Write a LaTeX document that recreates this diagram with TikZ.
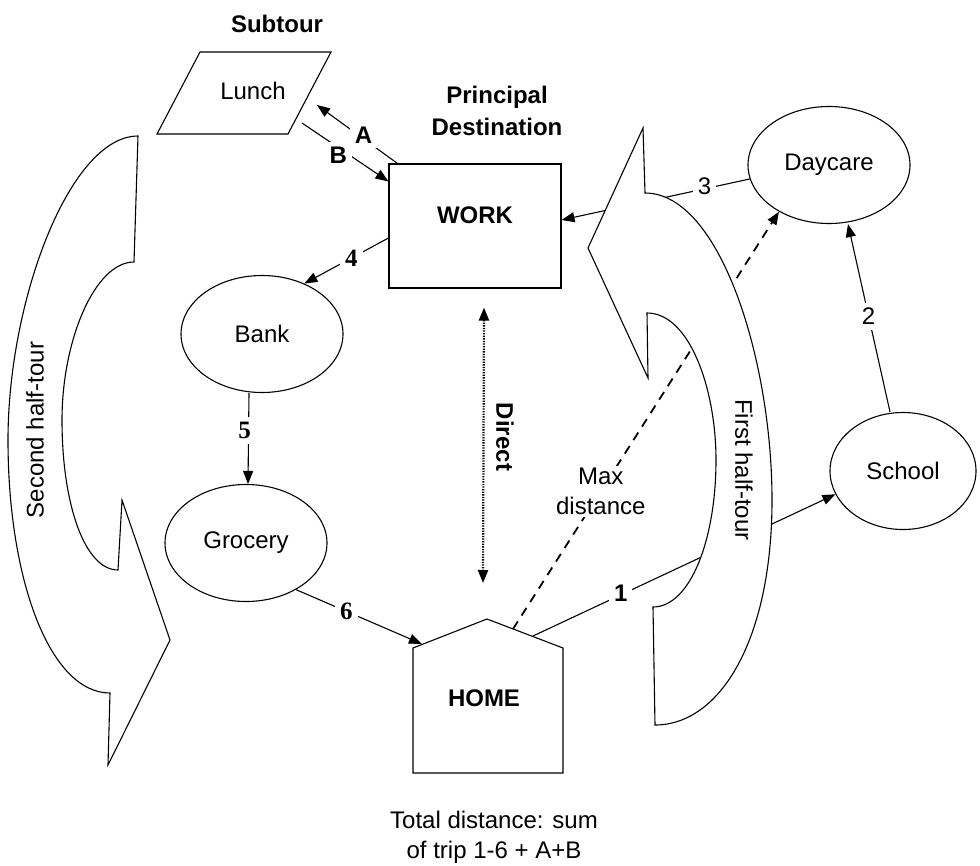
\documentclass[tikz,border=0pt]{standalone}
\usepackage{fontspec}
\setmainfont{Liberation Sans}
\newfontfamily\numfont{Liberation Serif}
\usetikzlibrary{arrows.meta, shapes.geometric}

\begin{document}
\begin{tikzpicture}[x=1pt, y=-1pt, line width=1.1pt,
    font=\fontsize{24}{30}\selectfont,
    bold/.style={font=\fontsize{24}{32}\selectfont\bfseries},
    stop/.style={draw, ellipse, minimum width=162pt, minimum height=117pt},
    tip/.style={-{Triangle[length=13pt, width=10pt]}},
    lbl/.style={fill=white, inner sep=5pt},
    halftour/.style={draw, fill=white}]
    \fill[white] (0,0) rectangle (980,865);
    \useasboundingbox (0,0) rectangle (980,865);

    % places
    \foreach \name/\x/\y/\txt in {bank/262/334/Bank, grocery/246/543/Grocery,
        daycare/829/165/Daycare} {
        \node[stop] (\name) at (\x, \y) {\txt};
    }
    \node[stop, minimum width=146pt] (school) at (903, 471) {School};

    \node[draw, minimum width=172pt, minimum height=124pt] (work) at (475, 226) {};
    \node[bold] (worktxt) at (475, 215) {WORK};
    \node[bold, align=center] (principal) at (497, 111) {Principal\\Destination};

    \draw (200,52) -- (331,52) -- (288,134) -- (157,134) -- cycle;
    \node (lunch) at (253, 91) {Lunch};
    \node[bold] (subtour) at (277, 24) {Subtour};
    \coordinate (lunchA) at (317, 105);
    \coordinate (lunchB) at (302, 123);

    \draw (413,773) -- (413,648) -- (487,619) -- (563,648) -- (563,773) -- cycle;
    \node[bold] (home) at (484, 698) {HOME};
    \coordinate (peak) at (487, 619);
    \coordinate (roof6) at (422, 644);
    \coordinate (roofmax) at (513, 629);
    \coordinate (roof1) at (533, 636);
    \node[align=center] (total) at (494, 837) {Total distance: sum\\of trip 1-6 + A+B};

    % trips
    \draw[tip] ([xshift=9pt]work.north west) -- node[lbl, pos=0.42, yshift=4pt, bold] {A} (lunchA);
    \draw[tip] (lunchB) -- node[lbl, pos=0.42, yshift=-8pt, bold] {B} ([yshift=-18pt]work.north west);
    \draw[tip] ([yshift=-12pt]work.west) -- node[lbl, pos=0.44, font=\fontsize{25}{30}\numfont\bfseries] {4} (bank.50);
    \draw[tip] ([xshift=-13pt]bank.south) -- node[lbl, pos=0.41, xshift=-4pt, font=\fontsize{25}{30}\numfont\bfseries] {5} ([xshift=2pt]grocery.north);
    \draw[tip] (grocery.-43) -- node[lbl, pos=0.4, font=\fontsize{25}{30}\numfont\bfseries] {6} (roof6);
    \draw[tip] (roof1) -- node[lbl, pos=0.29, yshift=2pt, bold] {1} (school.199);
    \draw[tip] ([xshift=-13pt]school.north) -- node[lbl, pos=0.51] {2} ([xshift=19pt]daycare.south);
    \draw[tip] (daycare.190) -- node[lbl, pos=0.24, yshift=3pt] {3} ([yshift=6pt]work.east);
    \draw[tip, line width=1.8pt, dash pattern=on 9pt off 7pt] (roofmax) -- node[lbl, pos=0.33, align=center, inner sep=2pt] {Max\\distance} (daycare.223);
    \draw[{Triangle[length=13pt, width=10pt]}-{Triangle[length=13pt, width=10pt]}, line width=2.2pt, dash pattern=on 1.3pt off 1.3pt]
        ([xshift=9pt, yshift=-19pt]work.south) -- ([xshift=-4pt, yshift=36pt]peak);
    \node[bold, rotate=-90] (direct) at (505, 437) {Direct};

    % half-tours
    \draw[halftour] (645,193) .. controls (720,193) and (772,360) .. (772,500)
        .. controls (772,640) and (720,725) .. (655,725) -- (653,607)
        .. controls (690,607) and (716,540) .. (716,460)
        .. controls (716,390) and (690,313) .. (647,313)
        -- (648,378) -- (588,248) -- (643,128) -- cycle;
    \node[rotate=-90] (first) at (744, 470) {First half-tour};

    \draw[halftour] (138,136) -- (134,262)
        .. controls (95,262) and (62,340) .. (62,420)
        .. controls (62,505) and (85,570) .. (118,570)
        -- (122,500) -- (170,640) -- (108,765) -- (110,693)
        .. controls (50,693) and (8,580) .. (8,440)
        .. controls (8,300) and (70,136) .. (138,136) -- cycle;
    \node[rotate=90] (second) at (35, 430) {Second half-tour};
\end{tikzpicture}
\end{document}
